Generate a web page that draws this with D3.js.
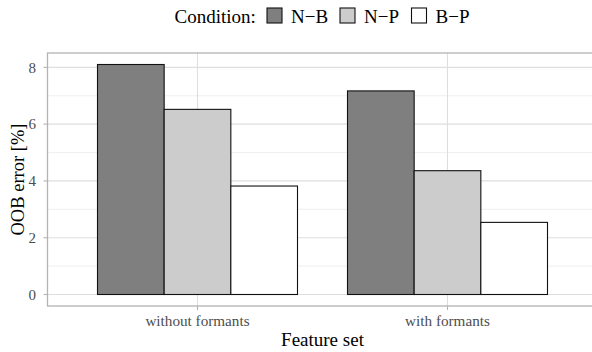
<!DOCTYPE html>
<html>
<head>
<meta charset="utf-8">
<script src="https://cdn.jsdelivr.net/npm/d3@7/dist/d3.min.js"></script>
<style>
  body { margin: 0; background: white; }
  text { font-family: "Liberation Serif", "Times New Roman", serif; }
</style>
</head>
<body>
<script>
var featureSets = ["without formants", "with formants"];
var conditions = ["N\u2212B", "N\u2212P", "B\u2212P"];
var values = {
  "without formants": [8.1, 6.52, 3.82],
  "with formants": [7.17, 4.36, 2.54]
};
var yTicks = [0, 2, 4, 6, 8];
var yMinor = [1, 3, 5, 7];
var colors = ["#7f7f7f", "#cccccc", "#ffffff"];

var width = 592, height = 352;
var panel = { left: 47.5, top: 53, right: 597.5, bottom: 306 };

var svg = d3.select("body").append("svg")
  .attr("width", width)
  .attr("height", height);

var x = d3.scaleBand()
  .domain(featureSets)
  .range([panel.left, panel.right])
  .paddingInner(0.2)
  .paddingOuter(0.2);

var xSub = d3.scaleBand()
  .domain(conditions)
  .range([0, x.bandwidth()]);

var yMax = 8.1;
var y = d3.scaleLinear()
  .domain([-yMax * 0.05, yMax * 1.05])
  .range([panel.bottom, panel.top]);

// grid
var grid = svg.append("g");
grid.selectAll(".minor").data(yMinor).enter().append("line")
  .attr("x1", panel.left).attr("x2", panel.right)
  .attr("y1", d => y(d)).attr("y2", d => y(d))
  .attr("stroke", "#ebebeb").attr("stroke-width", 0.8);
grid.selectAll(".major").data(yTicks).enter().append("line")
  .attr("x1", panel.left).attr("x2", panel.right)
  .attr("y1", d => y(d)).attr("y2", d => y(d))
  .attr("stroke", "#dedede").attr("stroke-width", 1.1);
grid.selectAll(".vmajor").data(featureSets).enter().append("line")
  .attr("x1", d => x(d) + x.bandwidth() / 2).attr("x2", d => x(d) + x.bandwidth() / 2)
  .attr("y1", panel.top).attr("y2", panel.bottom)
  .attr("stroke", "#dedede").attr("stroke-width", 1.1);

// bars
var groups = svg.selectAll(".group")
  .data(featureSets)
  .enter().append("g")
  .attr("transform", d => "translate(" + x(d) + ",0)");

groups.selectAll("rect")
  .data(d => values[d].map((v, i) => ({ cond: conditions[i], value: v, i: i })))
  .enter().append("rect")
  .attr("x", d => xSub(d.cond))
  .attr("width", xSub.bandwidth())
  .attr("y", d => y(d.value))
  .attr("height", d => y(0) - y(d.value))
  .attr("fill", d => colors[d.i])
  .attr("stroke", "#111")
  .attr("stroke-width", 1.1);

// panel border
svg.append("rect")
  .attr("x", panel.left).attr("y", panel.top)
  .attr("width", panel.right - panel.left)
  .attr("height", panel.bottom - panel.top)
  .attr("fill", "none")
  .attr("stroke", "#b3b3b3")
  .attr("stroke-width", 1.3);

// y axis
var yAxis = svg.append("g");
yAxis.selectAll("line").data(yTicks).enter().append("line")
  .attr("x1", panel.left - 4).attr("x2", panel.left)
  .attr("y1", d => y(d)).attr("y2", d => y(d))
  .attr("stroke", "#b3b3b3").attr("stroke-width", 1.1);
yAxis.selectAll("text").data(yTicks).enter().append("text")
  .attr("x", 36)
  .attr("y", d => y(d))
  .attr("dy", "0.35em")
  .attr("text-anchor", "end")
  .attr("fill", "#4d4d4d")
  .style("font-size", "15px")
  .text(d => d);

// x axis
var xAxis = svg.append("g");
xAxis.selectAll("line").data(featureSets).enter().append("line")
  .attr("x1", d => x(d) + x.bandwidth() / 2).attr("x2", d => x(d) + x.bandwidth() / 2)
  .attr("y1", panel.bottom).attr("y2", panel.bottom + 4)
  .attr("stroke", "#b3b3b3").attr("stroke-width", 1.1);
xAxis.selectAll("text").data(featureSets).enter().append("text")
  .attr("x", d => x(d) + x.bandwidth() / 2)
  .attr("y", 325.5)
  .attr("text-anchor", "middle")
  .attr("fill", "#4d4d4d")
  .style("font-size", "15.2px")
  .text(d => d);

svg.append("text")
  .attr("x", (panel.left + panel.right) / 2).attr("y", 345.5)
  .attr("text-anchor", "middle")
  .style("font-size", "19px")
  .text("Feature set");

svg.append("text")
  .attr("transform", "translate(23.5," + ((panel.top + panel.bottom) / 2) + ") rotate(-90)")
  .attr("text-anchor", "middle")
  .style("font-size", "18.5px")
  .text("OOB error [%]");

// legend
var legend = svg.append("g");
legend.append("text")
  .attr("x", 174.5).attr("y", 22.7)
  .style("font-size", "19px")
  .text("Condition:");
var keyX = [267, 340, 411.5];
var items = legend.selectAll(".item").data(conditions).enter().append("g")
  .attr("transform", (d, i) => "translate(" + keyX[i] + ",8)");
items.append("rect")
  .attr("width", 15).attr("height", 15)
  .attr("fill", (d, i) => colors[i])
  .attr("stroke", "#111").attr("stroke-width", 1.1);
items.append("text")
  .attr("x", 24).attr("y", 14.7)
  .style("font-size", "19px")
  .text(d => d);
</script>
</body>
</html>
